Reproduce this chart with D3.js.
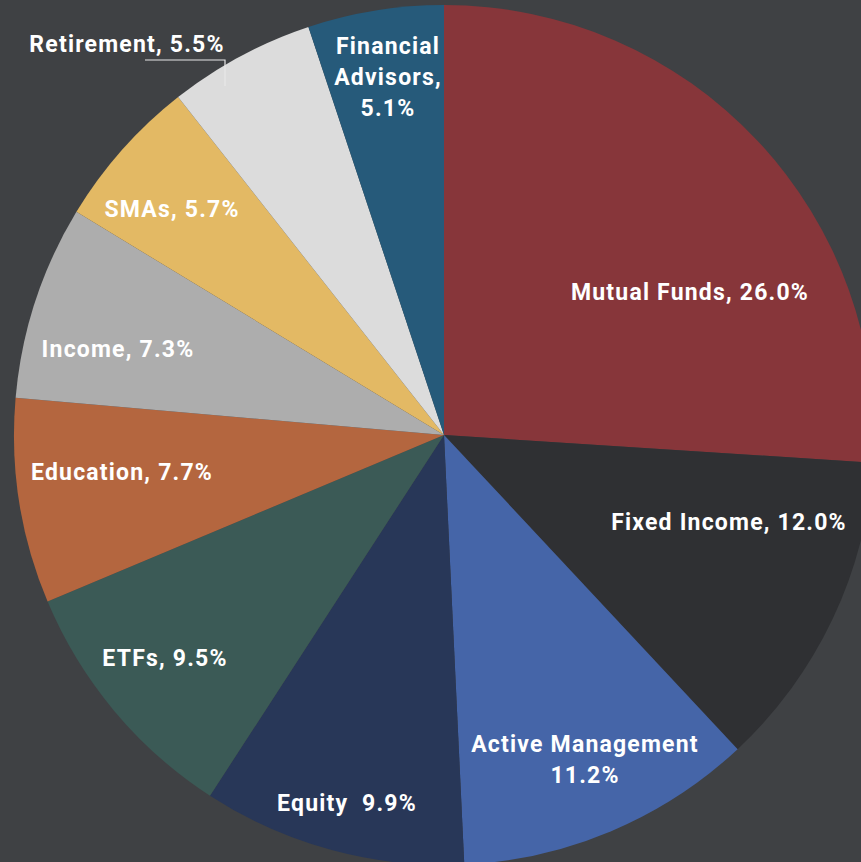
<!DOCTYPE html>
<html>
<head>
<meta charset="utf-8">
<script src="https://cdn.jsdelivr.net/npm/d3@7"></script>
<style>
  html, body { margin: 0; padding: 0; background: #3f4144; }
  svg { display: block; }
</style>
</head>
<body>
<div id="chart"></div>
<script>
// data
var categories = ["Mutual Funds", "Fixed Income", "Active Management", "Equity", "ETFs",
    "Education", "Income", "SMAs", "Retirement", "Financial Advisors"];
var values = [26.0, 12.0, 11.2, 9.9, 9.5, 7.7, 7.3, 5.7, 5.5, 5.1];
var labelLines = [
    ["Mutual Funds, 26.0%"],
    ["Fixed Income, 12.0%"],
    ["Active Management", "11.2%"],
    ["Equity  9.9%"],
    ["ETFs, 9.5%"],
    ["Education, 7.7%"],
    ["Income, 7.3%"],
    ["SMAs, 5.7%"],
    ["Retirement, 5.5%"],
    ["Financial", "Advisors,", "5.1%"]
];
var colours = ["#87363a", "#2f3033", "#4565a8", "#283758", "#3b5a56",
    "#b4663f", "#adadad", "#e3b964", "#dcdcdc", "#265a7a"];

// label placement (centre of text block)
var labelPos = [
    [690, 292], [729, 522], [585, 759], [347, 803], [165, 658],
    [122, 472], [118, 349], [172, 209], [127, 44], [388, 77]
];

var width = 861, height = 862;
var cx = 444, cy = 435, radius = 430;

var svg = d3.select("#chart").append("svg")
    .attr("width", width).attr("height", height);

svg.append("rect").attr("width", width).attr("height", height).attr("fill", "#3f4144");

var g = svg.append("g")
    .attr("transform", "translate(" + cx + " " + cy + ")");

var colour = d3.scaleOrdinal().domain(categories).range(colours);

var pie = d3.pie().sort(null).value(function(d) { return d.value; });
var arc = d3.arc().innerRadius(0).outerRadius(radius);

var data = categories.map(function(c, i) { return {name: c, value: values[i], i: i}; });

g.selectAll("path.slice")
    .data(pie(data))
    .enter().append("path")
    .attr("class", "slice")
    .attr("d", arc)
    .attr("fill", function(d) { return colour(d.data.name); });

// leader line for Retirement
svg.append("path")
    .attr("d", "M145 60 H225 V86")
    .attr("fill", "none")
    .attr("stroke", "#e8e8e8")
    .attr("stroke-width", 1.2);

var lineH = 31;
var labels = svg.selectAll("text.lbl")
    .data(data)
    .enter().append("text")
    .attr("class", "lbl")
    .attr("text-anchor", "middle")
    .attr("font-family", "Roboto, sans-serif")
    .attr("font-weight", "bold")
    .attr("font-size", "23px")
    .attr("letter-spacing", "1.2px")
    .style("fill", "#fff")
    .attr("transform", function(d) {
        return "translate(" + labelPos[d.i][0] + " " + labelPos[d.i][1] + ")";
    });

labels.each(function(d) {
    var lines = labelLines[d.i];
    var t = d3.select(this);
    lines.forEach(function(l, j) {
        t.append("tspan")
            .attr("x", 0)
            .attr("y", (j - (lines.length - 1) / 2) * lineH)
            .attr("dy", "0.35em")
            .style("white-space", "pre")
            .text(l);
    });
});
</script>
</body>
</html>
